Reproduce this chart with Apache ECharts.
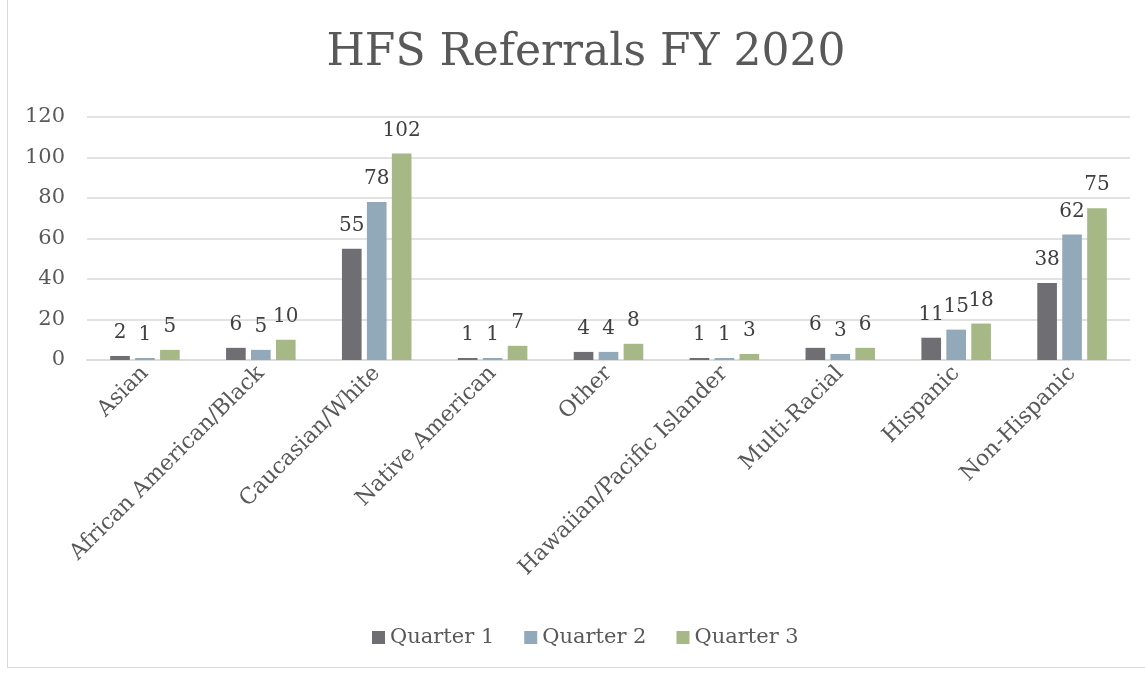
<!DOCTYPE html>
<html>
<head>
<meta charset="utf-8">
<script src="https://cdn.jsdelivr.net/npm/echarts@6/dist/echarts.min.js"></script>
<style>
  html, body { margin: 0; padding: 0; background: #fff; }
  #frame { position: absolute; left: 7px; top: -2px; width: 1145px; height: 670px; border: 1px solid #d9d9d9; box-sizing: border-box; }
  #chart { width: 1145px; height: 673px; }
</style>
</head>
<body>
<div id="frame"></div>
<div id="chart"></div>
<script>
// categories along the x axis
var categories = [
  "Asian",
  "African American/Black",
  "Caucasian/White",
  "Native American",
  "Other",
  "Hawaiian/Pacific Islander",
  "Multi-Racial",
  "Hispanic",
  "Non-Hispanic"
];
// values per quarter
var quarter1 = [2, 6, 55, 1, 4, 1, 6, 11, 38];
var quarter2 = [1, 5, 78, 1, 4, 1, 3, 15, 62];
var quarter3 = [5, 10, 102, 7, 8, 3, 6, 18, 75];
var seriesNames = ["Quarter 1", "Quarter 2", "Quarter 3"];

var font = "'DejaVu Serif', serif";

function makeSeries(name, data) {
  return {
    name: name,
    type: "bar",
    data: data,
    barGap: "27%",
    barCategoryGap: "40%",
    label: {
      show: true,
      position: "top",
      distance: 13,
      color: "#404040",
      fontFamily: font,
      fontSize: 20
    }
  };
}

var chart = echarts.init(document.getElementById("chart"));
chart.setOption({
  animation: false,
  color: ["#6f6e73", "#92a9b9", "#a6b886"],
  title: {
    text: "HFS Referrals FY 2020",
    left: 581,
    textAlign: "center",
    top: 27,
    textStyle: { fontFamily: font, fontSize: 44, fontWeight: "normal", color: "#595959" }
  },
  legend: {
    data: seriesNames,
    bottom: 20,
    left: 367,
    itemWidth: 13,
    itemHeight: 13,
    itemGap: 30,
    icon: "rect",
    textStyle: { fontFamily: font, fontSize: 21, color: "#595959" }
  },
  grid: { left: 87, right: 15, top: 117, bottom: 313, containLabel: false },
  xAxis: {
    type: "category",
    data: categories,
    axisLine: { lineStyle: { color: "#d9d9d9", width: 1.5 } },
    axisTick: { show: false },
    axisLabel: {
      interval: 0,
      rotate: 45,
      margin: 10,
      color: "#595959",
      fontFamily: font,
      fontSize: 22
    }
  },
  yAxis: {
    type: "value",
    min: 0,
    max: 120,
    interval: 20,
    axisLine: { show: false },
    axisTick: { show: false },
    splitLine: { lineStyle: { color: "#d9d9d9", width: 1.5 } },
    axisLabel: { color: "#595959", fontFamily: font, fontSize: 21, margin: 22 }
  },
  series: [
    makeSeries(seriesNames[0], quarter1),
    makeSeries(seriesNames[1], quarter2),
    makeSeries(seriesNames[2], quarter3)
  ]
});
</script>
</body>
</html>
